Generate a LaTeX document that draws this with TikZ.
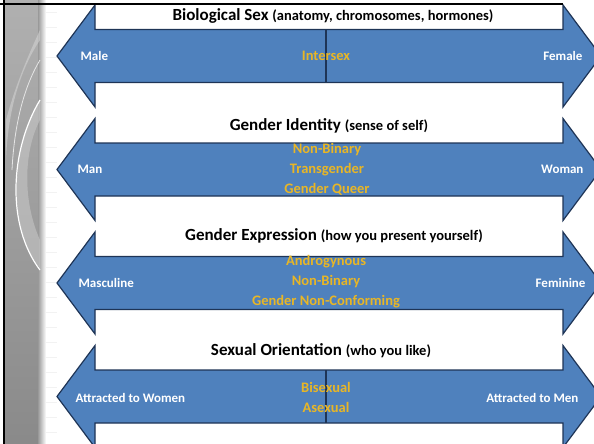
\documentclass[tikz,border=0pt]{standalone}
\usepackage{fontspec}
\setmainfont{Carlito}
\usepackage{xcolor}
\usepackage{tikz}
\usetikzlibrary{positioning}

\definecolor{bandblue}{RGB}{79,129,189}
\definecolor{bandline}{RGB}{30,52,86}
\definecolor{midgold}{RGB}{232,182,38}

\begin{document}
\begin{tikzpicture}[
    x=1pt, y=-1pt,
    band/.style={fill=bandblue, draw=bandline, line width=1.2pt, line join=miter},
    divider/.style={draw=bandline, line width=1.2pt},
    title/.style={anchor=base, font=\bfseries\fontsize{17}{20}\selectfont},
    side/.style={font=\bfseries\fontsize{13}{15}\selectfont, text=white},
    mid/.style={align=center, font=\bfseries\fontsize{14.5}{20}\selectfont, text=midgold}
  ]
  \newcommand{\subtxt}{\fontsize{14.5}{16}\selectfont}
  \useasboundingbox (0,0) rectangle (594,444);

  \begin{scope}
    \clip (0,0) rectangle (594,444);
    % slide strip on the left
    \shade[top color=gray!62, bottom color=gray!92] (4,0) rectangle (40,444);
    \shade[left color=gray!80, right color=white] (38,0) rectangle (46,444);
    \fill[gray!45, opacity=0.6] (40,100) .. controls (10,150) and (8,230) .. (40,268) -- (40,240) .. controls (22,200) and (24,150) .. (40,120) -- cycle;
    \fill[gray!30, opacity=0.5] (40,40) .. controls (20,70) and (8,110) .. (6,160) -- (6,120) .. controls (14,90) and (26,60) .. (40,30) -- cycle;
    \draw[white, line width=1.2pt] (40,100) .. controls (10,150) and (6,225) .. (40,270);
    \draw[white!80!gray, line width=0.8pt] (40,60) .. controls (22,90) and (14,130) .. (12,170);
    \foreach \ly in {12,27,...,440}
      \draw[gray!10] (46,\ly) -- (57,\ly);

    % double arrows
    \foreach \cy in {56,169.5,283,396.5}
      \draw[band] (57,\cy) -- (95,\cy-51) -- (95,\cy-26.5) -- (563,\cy-26.5)
        -- (563,\cy-51) -- (601,\cy) -- (563,\cy+51) -- (563,\cy+26.5)
        -- (95,\cy+26.5) -- (95,\cy+51) -- cycle;
    \draw[divider] (326,29.5) -- (326,82.5);
    \draw[divider] (326,370) -- (326,423);

    % frame
    \draw[black, line width=2pt] (0,4) -- (563,4);
    \draw[black, line width=2pt] (4,0) -- (4,444);
  \end{scope}

  % titles
  \node[title] (sex)    at (333,21)  {Biological Sex {\subtxt(anatomy, chromosomes, hormones)}};
  \node[title] (ident)  at (329,130) {Gender Identity {\subtxt(sense of self)}};
  \node[title] (expr)   at (334,240) {Gender Expression {\subtxt(how you present yourself)}};
  \node[title] (orient) at (321,355) {Sexual Orientation {\subtxt(who you like)}};

  % band 1
  \node[side, anchor=west] (male)   at (77,56)  {Male};
  \node[side, anchor=east] (female) at (586,56) {Female};
  \node[mid] (intersex) at (326,56) {Intersex};

  % band 2
  \node[side, anchor=west] (man)   at (74,169.5)  {Man};
  \node[side, anchor=east] (woman) at (587,169.5) {Woman};
  \node[mid] (nonbin) at (327,169) {Non-Binary\\Transgender\\Gender Queer};

  % band 3
  \node[side, anchor=west] (masc) at (75,283)  {Masculine};
  \node[side, anchor=east] (fem)  at (589,283) {Feminine};
  \node[mid] (andro) at (326,282) {Androgynous\\Non-Binary\\Gender Non-Conforming};

  % band 4
  \node[side, anchor=west] (women) at (72,397.5)  {Attracted to Women};
  \node[side, anchor=east] (men)   at (582,397.5) {Attracted to Men};
  \node[mid] (bisex) at (326,397) {Bisexual\\Asexual};
\end{tikzpicture}
\end{document}
